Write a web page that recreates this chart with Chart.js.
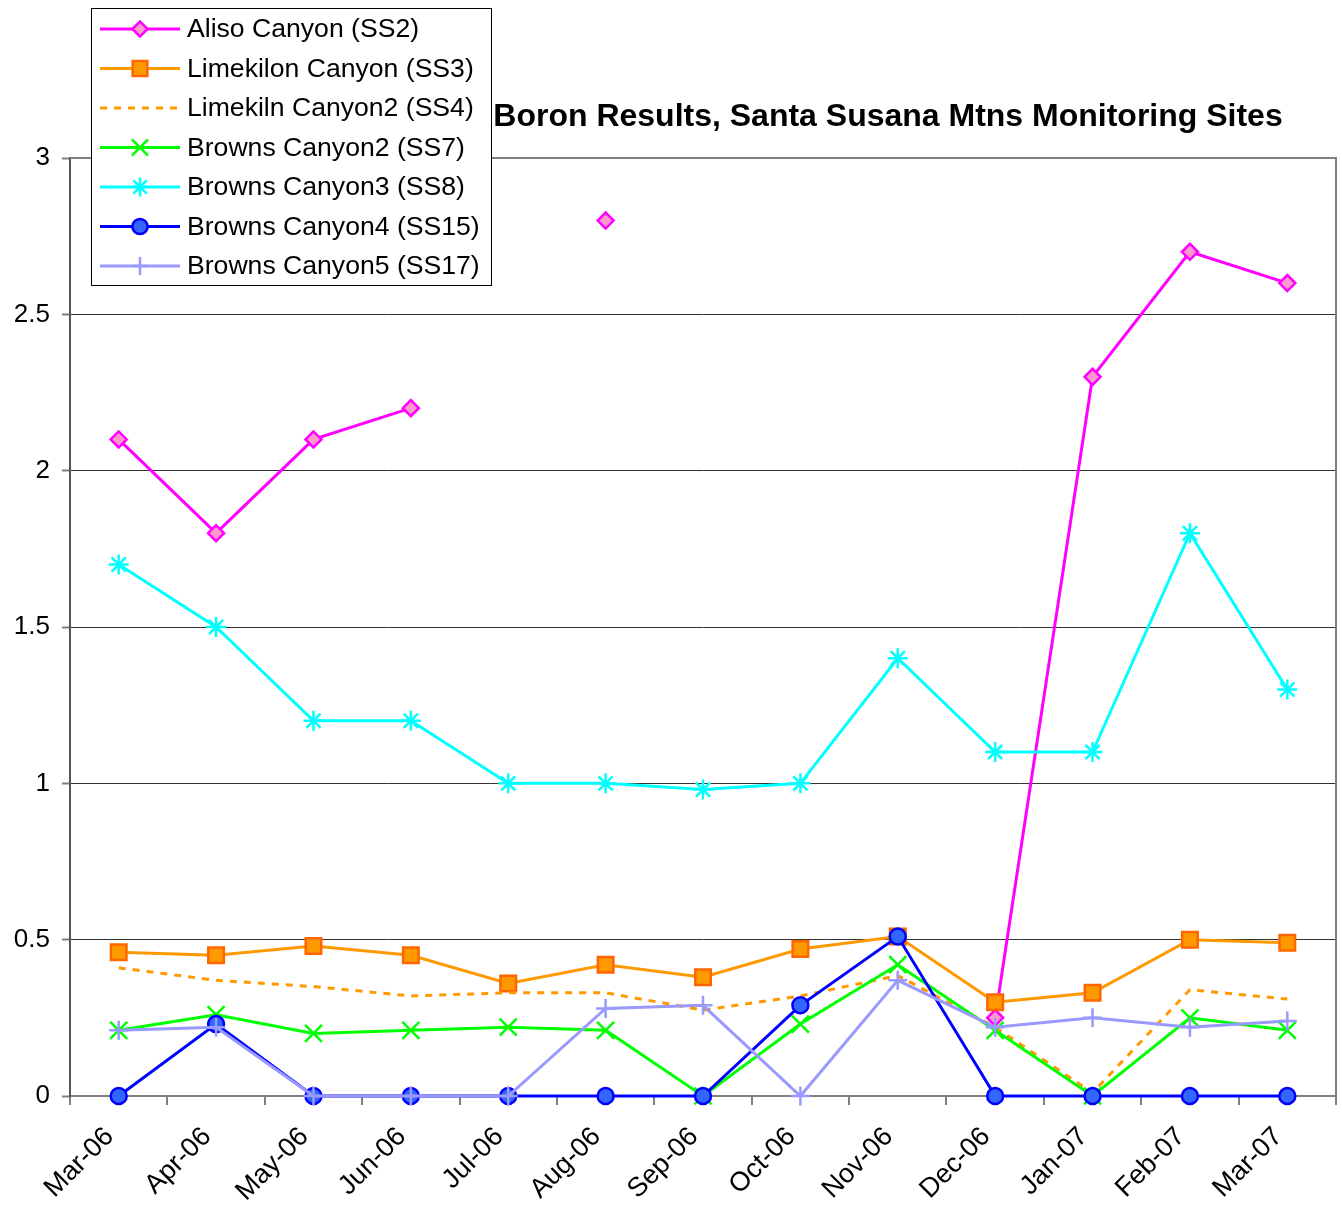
<!DOCTYPE html>
<html>
<head>
<meta charset="utf-8">
<title>Boron Results</title>
<script src="https://cdn.jsdelivr.net/npm/chart.js@4.4.1/dist/chart.umd.min.js"></script>
<style>
    body { margin: 0; background: #fff; }
    #wrap { width: 1342px; height: 1209px; position: relative; }
</style>
</head>
<body>
<div id="wrap"><canvas id="boronChart" width="1342" height="1209"></canvas></div>
<script>
// data
const months = ['Mar-06', 'Apr-06', 'May-06', 'Jun-06', 'Jul-06', 'Aug-06', 'Sep-06',
                'Oct-06', 'Nov-06', 'Dec-06', 'Jan-07', 'Feb-07', 'Mar-07'];
const yTicks = [0, 0.5, 1, 1.5, 2, 2.5, 3];

const aliso = [2.1, 1.8, 2.1, 2.2, null, 2.8, null, null, null, 0.25, 2.3, 2.7, 2.6];
const limekilon = [0.46, 0.45, 0.48, 0.45, 0.36, 0.42, 0.38, 0.47, 0.51, 0.30, 0.33, 0.50, 0.49];
const limekiln2 = [0.41, 0.37, 0.35, 0.32, 0.33, 0.33, 0.275, 0.32, 0.385, 0.22, 0.01, 0.34, 0.31];
const browns2 = [0.21, 0.26, 0.20, 0.21, 0.22, 0.21, 0, 0.23, 0.42, 0.21, 0, 0.25, 0.21];
const browns3 = [1.7, 1.5, 1.2, 1.2, 1.0, 1.0, 0.98, 1.0, 1.4, 1.1, 1.1, 1.8, 1.3];
const browns4 = [0, 0.23, 0, 0, 0, 0, 0, 0.29, 0.51, 0, 0, 0, 0];
const browns5 = [0.21, 0.22, 0, 0, 0, 0.28, 0.29, 0, 0.37, 0.22, 0.25, 0.22, 0.24];

const FONT = "'Liberation Sans', Arial, sans-serif";

function series(label, data, line, style) {
    return Object.assign({
        label: label,
        data: data,
        borderColor: line,
        borderWidth: 3,
        tension: 0,
        spanGaps: false,
        clip: false,
        pointRadius: 0,
        pointHoverRadius: 0
    }, style);
}

const datasets = [
    series('Aliso Canyon (SS2)', aliso, '#FF00FF', {
        pointStyle: 'rectRot', pointRadius: 8, pointBackgroundColor: '#FF99CC',
        pointBorderColor: '#FF00FF', pointBorderWidth: 2.5
    }),
    series('Limekilon Canyon (SS3)', limekilon, '#FF9900', {
        pointStyle: 'rect', pointRadius: 11, pointBackgroundColor: '#FF9900',
        pointBorderColor: '#FF6600', pointBorderWidth: 2.5
    }),
    series('Limekiln Canyon2 (SS4)', limekiln2, '#FF9900', {
        borderDash: [7, 7]
    }),
    series('Browns Canyon2 (SS7)', browns2, '#00FF00', {
        pointStyle: 'crossRot', pointRadius: 12, pointBorderColor: '#00FF00', pointBorderWidth: 2.5
    }),
    series('Browns Canyon3 (SS8)', browns3, '#00FFFF', {
        pointStyle: 'star', pointRadius: 10, pointBorderColor: '#00FFFF', pointBorderWidth: 2.5
    }),
    series('Browns Canyon4 (SS15)', browns4, '#0000FF', {
        pointStyle: 'circle', pointRadius: 8, pointBackgroundColor: '#3366FF',
        pointBorderColor: '#0000FF', pointBorderWidth: 2.5
    }),
    series('Browns Canyon5 (SS17)', browns5, '#9999FF', {
        pointStyle: 'cross', pointRadius: 9.5, pointBorderColor: '#9999FF', pointBorderWidth: 2.5
    })
];
// later series on top, like the original
datasets.forEach((d, i) => { d.order = datasets.length - i; });

// title, plot frame and the boxed legend
const decorations = {
    id: 'decorations',
    beforeDatasetsDraw(chart) {
        const ctx = chart.ctx;
        const a = chart.chartArea;
        ctx.save();
        ctx.strokeStyle = '#808080';
        ctx.lineWidth = 2;
        ctx.beginPath();
        ctx.moveTo(a.left, a.top);
        ctx.lineTo(a.right, a.top);
        ctx.lineTo(a.right, a.bottom);
        ctx.stroke();
        ctx.restore();
    },
    afterDraw(chart) {
        const ctx = chart.ctx;
        ctx.save();
        ctx.fillStyle = '#000';
        ctx.font = 'bold 32px ' + FONT;
        ctx.textAlign = 'center';
        ctx.textBaseline = 'alphabetic';
        ctx.fillText('Boron Results, Santa Susana Mtns Monitoring Sites', 888, 126);

        const box = { x: 91.5, y: 8.5, w: 400, h: 277 };
        ctx.fillStyle = '#fff';
        ctx.fillRect(box.x, box.y, box.w, box.h);
        ctx.strokeStyle = '#000';
        ctx.lineWidth = 1;
        ctx.strokeRect(box.x, box.y, box.w, box.h);

        ctx.font = '26.6px ' + FONT;
        ctx.textAlign = 'left';
        ctx.textBaseline = 'middle';
        chart.data.datasets.forEach((ds, i) => {
            const y = 29 + i * 39.5;
            ctx.save();
            ctx.strokeStyle = ds.borderColor;
            ctx.lineWidth = ds.borderWidth;
            ctx.setLineDash(ds.borderDash || []);
            ctx.beginPath();
            ctx.moveTo(100, y);
            ctx.lineTo(180, y);
            ctx.stroke();
            ctx.setLineDash([]);
            if (ds.pointRadius > 0) {
                ctx.fillStyle = ds.pointBackgroundColor || ds.pointBorderColor;
                ctx.strokeStyle = ds.pointBorderColor;
                ctx.lineWidth = ds.pointBorderWidth;
                Chart.helpers.drawPoint(ctx, {
                    pointStyle: ds.pointStyle,
                    radius: ds.pointRadius * 0.95,
                    rotation: 0,
                    borderWidth: ds.pointBorderWidth
                }, 140, y);
            }
            ctx.restore();
            ctx.fillStyle = '#000';
            ctx.fillText(ds.label, 187, y + 1);
        });
        ctx.restore();
    }
};

const ctx = document.getElementById('boronChart').getContext('2d');
new Chart(ctx, {
    type: 'line',
    data: {
        labels: months,
        datasets: datasets
    },
    options: {
        responsive: false,
        animation: false,
        events: [],
        layout: {
            autoPadding: false,
            padding: { top: 158, right: 6, left: 0, bottom: 0 }
        },
        plugins: {
            legend: { display: false },
            title: { display: false },
            tooltip: { enabled: false }
        },
        scales: {
            x: {
                offset: true,
                afterFit: scale => {
                    scale.height = 113;
                    scale.paddingLeft = 0;
                    scale.paddingRight = 0;
                },
                grid: {
                    offset: true,
                    drawOnChartArea: false,
                    drawTicks: true,
                    tickLength: 9,
                    color: '#808080',
                    lineWidth: 2
                },
                border: { color: '#808080', width: 2 },
                ticks: {
                    minRotation: 45,
                    maxRotation: 45,
                    padding: 16,
                    labelOffset: -9,
                    color: '#000',
                    font: { family: FONT, size: 27 }
                }
            },
            y: {
                min: 0,
                max: 3,
                afterFit: scale => { scale.width = 70; },
                afterBuildTicks: scale => { scale.ticks = yTicks.map(v => ({ value: v })); },
                grid: {
                    color: '#333',
                    lineWidth: 1,
                    drawTicks: true,
                    tickLength: 8,
                    tickColor: '#808080',
                    tickWidth: 2
                },
                border: { color: '#555', width: 2 },
                ticks: {
                    padding: 12,
                    color: '#000',
                    font: { family: FONT, size: 26 },
                    callback: v => String(v)
                }
            }
        }
    },
    plugins: [decorations]
});
</script>
</body>
</html>
